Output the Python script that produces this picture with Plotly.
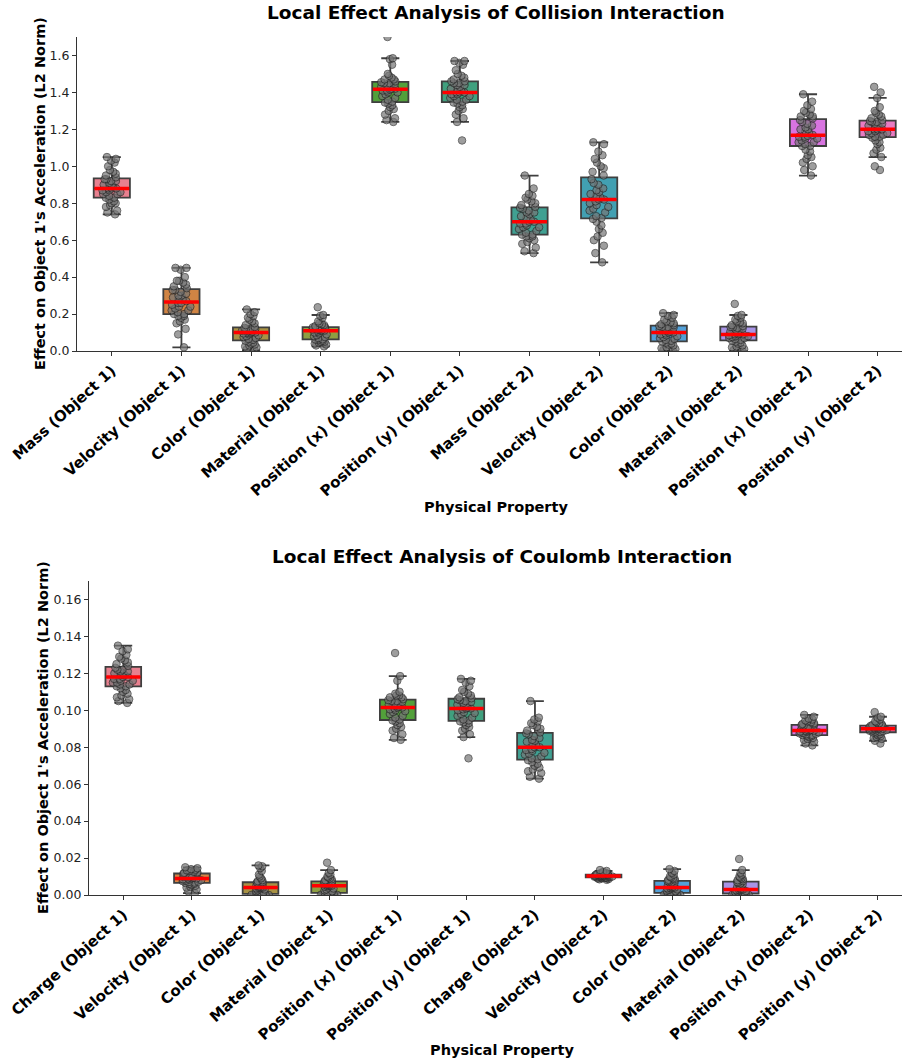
import numpy as np
import plotly.graph_objects as go

# ---------------- categories ----------------
collision_categories = [
    "Mass (Object 1)", "Velocity (Object 1)", "Color (Object 1)", "Material (Object 1)",
    "Position (x) (Object 1)", "Position (y) (Object 1)", "Mass (Object 2)", "Velocity (Object 2)",
    "Color (Object 2)", "Material (Object 2)", "Position (x) (Object 2)", "Position (y) (Object 2)",
]
coulomb_categories = [
    "Charge (Object 1)", "Velocity (Object 1)", "Color (Object 1)", "Material (Object 1)",
    "Position (x) (Object 1)", "Position (y) (Object 1)", "Charge (Object 2)", "Velocity (Object 2)",
    "Color (Object 2)", "Material (Object 2)", "Position (x) (Object 2)", "Position (y) (Object 2)",
]
box_colors = ["#e8808f", "#d08444", "#a89244", "#8e9e42", "#52a03a", "#40a07e",
              "#40a092", "#42a0b2", "#52a0d8", "#a894e6", "#d874e0", "#e87cc2"]

# ---------------- collision interaction samples ----------------
col_mass_1 = [0.74, 0.75, 0.76, 0.78, 0.79, 0.80, 0.80, 0.81, 0.82, 0.83,
              0.83, 0.84, 0.85, 0.85, 0.86, 0.86, 0.87, 0.87, 0.88, 0.88,
              0.88, 0.89, 0.89, 0.90, 0.90, 0.91, 0.92, 0.92, 0.93, 0.93,
              0.94, 0.95, 0.96, 0.97, 0.98, 1.00, 1.02, 1.03, 1.04, 1.05]
col_vel_1 = [0.02, 0.09, 0.12, 0.15, 0.16, 0.17, 0.18, 0.19, 0.19, 0.20,
             0.20, 0.21, 0.22, 0.22, 0.23, 0.24, 0.24, 0.25, 0.26, 0.26,
             0.27, 0.28, 0.28, 0.29, 0.30, 0.30, 0.31, 0.32, 0.33, 0.33,
             0.34, 0.35, 0.36, 0.37, 0.38, 0.38, 0.40, 0.44, 0.45, 0.45]
col_color_1 = [0.003, 0.01, 0.02, 0.025, 0.03, 0.035, 0.04, 0.045, 0.05, 0.055,
               0.06, 0.065, 0.07, 0.075, 0.08, 0.085, 0.09, 0.095, 0.098, 0.10,
               0.10, 0.105, 0.107, 0.11, 0.113, 0.115, 0.118, 0.12, 0.122, 0.125,
               0.13, 0.14, 0.15, 0.16, 0.17, 0.18, 0.19, 0.20, 0.21, 0.225]
col_mat_1 = [0.025, 0.03, 0.035, 0.04, 0.045, 0.05, 0.05, 0.055, 0.06, 0.062,
             0.063, 0.07, 0.075, 0.08, 0.085, 0.09, 0.095, 0.10, 0.105, 0.11,
             0.11, 0.112, 0.115, 0.117, 0.12, 0.122, 0.124, 0.125, 0.127, 0.128,
             0.13, 0.135, 0.14, 0.145, 0.15, 0.16, 0.18, 0.19, 0.195, 0.237]
col_posx_1 = [1.24, 1.25, 1.26, 1.28, 1.30, 1.31, 1.32, 1.33, 1.34, 1.345,
              1.35, 1.36, 1.37, 1.38, 1.39, 1.40, 1.40, 1.41, 1.41, 1.415,
              1.42, 1.42, 1.43, 1.43, 1.44, 1.44, 1.445, 1.45, 1.45, 1.455,
              1.46, 1.47, 1.47, 1.48, 1.49, 1.50, 1.55, 1.58, 1.585, 1.70]
col_posy_1 = [1.14, 1.24, 1.26, 1.28, 1.30, 1.31, 1.32, 1.33, 1.34, 1.345,
              1.35, 1.36, 1.36, 1.37, 1.38, 1.38, 1.39, 1.39, 1.40, 1.40,
              1.40, 1.41, 1.42, 1.42, 1.43, 1.44, 1.44, 1.45, 1.45, 1.46,
              1.46, 1.47, 1.48, 1.49, 1.50, 1.52, 1.55, 1.56, 1.57, 1.57]
col_mass_2 = [0.53, 0.54, 0.56, 0.58, 0.59, 0.60, 0.61, 0.62, 0.62, 0.63,
              0.63, 0.64, 0.65, 0.66, 0.67, 0.67, 0.68, 0.69, 0.69, 0.70,
              0.70, 0.71, 0.72, 0.73, 0.74, 0.75, 0.75, 0.76, 0.77, 0.775,
              0.78, 0.79, 0.80, 0.81, 0.82, 0.83, 0.84, 0.85, 0.88, 0.95]
col_vel_2 = [0.48, 0.53, 0.57, 0.60, 0.62, 0.64, 0.66, 0.68, 0.70, 0.715,
             0.72, 0.73, 0.75, 0.76, 0.77, 0.78, 0.79, 0.80, 0.81, 0.82,
             0.82, 0.83, 0.84, 0.85, 0.86, 0.87, 0.88, 0.90, 0.91, 0.93,
             0.95, 0.97, 0.99, 1.00, 1.02, 1.04, 1.06, 1.08, 1.12, 1.13]
col_color_2 = [0.0, 0.005, 0.01, 0.015, 0.02, 0.03, 0.035, 0.04, 0.045, 0.05,
               0.055, 0.06, 0.065, 0.07, 0.075, 0.08, 0.085, 0.09, 0.095, 0.10,
               0.10, 0.105, 0.11, 0.115, 0.12, 0.12, 0.125, 0.13, 0.13, 0.135,
               0.14, 0.145, 0.15, 0.155, 0.16, 0.17, 0.18, 0.19, 0.195, 0.205]
col_mat_2 = [0.0, 0.005, 0.01, 0.02, 0.025, 0.03, 0.04, 0.045, 0.05, 0.055,
             0.06, 0.065, 0.07, 0.07, 0.075, 0.08, 0.08, 0.085, 0.09, 0.09,
             0.09, 0.095, 0.10, 0.105, 0.11, 0.115, 0.12, 0.125, 0.128, 0.13,
             0.135, 0.14, 0.15, 0.155, 0.16, 0.17, 0.18, 0.19, 0.195, 0.255]
col_posx_2 = [0.95, 0.98, 1.00, 1.02, 1.04, 1.05, 1.06, 1.08, 1.09, 1.11,
              1.11, 1.12, 1.13, 1.13, 1.14, 1.15, 1.15, 1.16, 1.16, 1.165,
              1.17, 1.18, 1.19, 1.20, 1.20, 1.21, 1.22, 1.23, 1.24, 1.25,
              1.26, 1.27, 1.27, 1.28, 1.29, 1.30, 1.31, 1.33, 1.35, 1.39]
col_posy_2 = [0.98, 1.00, 1.05, 1.07, 1.09, 1.10, 1.12, 1.13, 1.14, 1.155,
              1.16, 1.16, 1.17, 1.17, 1.18, 1.18, 1.19, 1.19, 1.20, 1.20,
              1.20, 1.21, 1.21, 1.22, 1.22, 1.23, 1.23, 1.24, 1.24, 1.245,
              1.25, 1.26, 1.27, 1.28, 1.29, 1.30, 1.32, 1.37, 1.40, 1.43]

# ---------------- coulomb interaction samples ----------------
cou_charge_1 = [0.104, 0.105, 0.106, 0.107, 0.108, 0.109, 0.110, 0.111, 0.112, 0.113,
                0.113, 0.114, 0.114, 0.115, 0.115, 0.116, 0.116, 0.117, 0.117, 0.118,
                0.118, 0.119, 0.119, 0.120, 0.120, 0.121, 0.121, 0.122, 0.122, 0.123,
                0.124, 0.125, 0.126, 0.127, 0.128, 0.129, 0.130, 0.132, 0.133, 0.135]
cou_vel_1 = [0.001, 0.002, 0.003, 0.004, 0.0045, 0.005, 0.0055, 0.006, 0.006, 0.0065,
             0.0067, 0.007, 0.0072, 0.0075, 0.0078, 0.008, 0.0083, 0.0085, 0.0088, 0.009,
             0.009, 0.0093, 0.0095, 0.0098, 0.010, 0.0103, 0.0106, 0.011, 0.0112, 0.0115,
             0.0118, 0.012, 0.0123, 0.0126, 0.013, 0.0133, 0.0137, 0.014, 0.0145, 0.015]
cou_color_1 = [0.0, 0.0, 0.0, 0.0001, 0.0001, 0.0002, 0.0003, 0.0003, 0.0004, 0.0005,
               0.0008, 0.001, 0.0015, 0.002, 0.0025, 0.003, 0.0033, 0.0035, 0.0038, 0.004,
               0.004, 0.0043, 0.0046, 0.005, 0.0053, 0.0056, 0.006, 0.0063, 0.0066, 0.0068,
               0.007, 0.0075, 0.008, 0.009, 0.010, 0.011, 0.013, 0.0145, 0.0155, 0.0160]
cou_mat_1 = [0.0, 0.0, 0.0001, 0.0002, 0.0003, 0.0004, 0.0005, 0.0006, 0.0008, 0.001,
             0.0012, 0.0015, 0.002, 0.0025, 0.003, 0.0035, 0.004, 0.0045, 0.0048, 0.005,
             0.005, 0.0053, 0.0055, 0.0058, 0.006, 0.0063, 0.0065, 0.0068, 0.007, 0.0072,
             0.0075, 0.008, 0.0085, 0.009, 0.0095, 0.010, 0.011, 0.012, 0.0135, 0.0175]
cou_posx_1 = [0.084, 0.085, 0.087, 0.089, 0.090, 0.091, 0.092, 0.093, 0.094, 0.0945,
              0.095, 0.096, 0.097, 0.098, 0.099, 0.0995, 0.100, 0.1005, 0.101, 0.1015,
              0.1015, 0.102, 0.1025, 0.103, 0.1035, 0.104, 0.1045, 0.105, 0.105, 0.1055,
              0.106, 0.107, 0.107, 0.108, 0.108, 0.109, 0.110, 0.116, 0.1185, 0.131]
cou_posy_1 = [0.074, 0.0855, 0.087, 0.089, 0.090, 0.091, 0.092, 0.093, 0.0935, 0.094,
              0.0945, 0.095, 0.096, 0.097, 0.098, 0.0985, 0.099, 0.100, 0.1005, 0.101,
              0.101, 0.1015, 0.102, 0.103, 0.1035, 0.104, 0.1045, 0.105, 0.1055, 0.106,
              0.1065, 0.107, 0.108, 0.109, 0.110, 0.111, 0.113, 0.115, 0.116, 0.117]
cou_charge_2 = [0.063, 0.064, 0.066, 0.067, 0.068, 0.069, 0.070, 0.071, 0.072, 0.073,
                0.0735, 0.074, 0.075, 0.076, 0.0765, 0.077, 0.078, 0.0785, 0.079, 0.080,
                0.080, 0.081, 0.082, 0.083, 0.0835, 0.084, 0.085, 0.086, 0.087, 0.0875,
                0.088, 0.089, 0.090, 0.091, 0.092, 0.093, 0.094, 0.095, 0.096, 0.105]
cou_vel_2 = [0.0082, 0.0085, 0.0087, 0.0089, 0.009, 0.0091, 0.0092, 0.0093, 0.0094, 0.0095,
             0.0096, 0.0097, 0.0098, 0.0099, 0.010, 0.010, 0.0101, 0.0102, 0.0102, 0.0103,
             0.0103, 0.0104, 0.0105, 0.0105, 0.0106, 0.0107, 0.0108, 0.0108, 0.0109, 0.011,
             0.0111, 0.0112, 0.0113, 0.0114, 0.0116, 0.0118, 0.012, 0.0125, 0.013, 0.0135]
cou_color_2 = [0.0, 0.0, 0.0001, 0.0002, 0.0003, 0.0004, 0.0005, 0.0006, 0.0008, 0.001,
               0.0012, 0.0015, 0.002, 0.0023, 0.0027, 0.003, 0.0033, 0.0036, 0.0038, 0.004,
               0.004, 0.0044, 0.0048, 0.0052, 0.0056, 0.006, 0.0064, 0.0068, 0.0072, 0.0075,
               0.0078, 0.0082, 0.0087, 0.009, 0.0095, 0.010, 0.011, 0.012, 0.013, 0.014]
cou_mat_2 = [0.0, 0.0, 0.0001, 0.0002, 0.0002, 0.0003, 0.0004, 0.0005, 0.0006, 0.0007,
             0.0009, 0.001, 0.0013, 0.0016, 0.0019, 0.0021, 0.0024, 0.0026, 0.0028, 0.003,
             0.003, 0.0034, 0.0038, 0.0042, 0.0047, 0.0052, 0.0057, 0.0062, 0.0066, 0.007,
             0.0075, 0.008, 0.0085, 0.009, 0.0095, 0.010, 0.011, 0.012, 0.0135, 0.0195]
cou_posx_2 = [0.081, 0.082, 0.083, 0.084, 0.0845, 0.085, 0.0855, 0.086, 0.0862, 0.0865,
              0.0867, 0.087, 0.0873, 0.0875, 0.0878, 0.088, 0.0883, 0.0885, 0.0888, 0.089,
              0.089, 0.0893, 0.0896, 0.090, 0.0903, 0.0906, 0.091, 0.0913, 0.0917, 0.092,
              0.0923, 0.0926, 0.093, 0.0935, 0.094, 0.0945, 0.095, 0.0955, 0.0965, 0.0975]
cou_posy_2 = [0.082, 0.0835, 0.0845, 0.085, 0.0855, 0.086, 0.0865, 0.087, 0.0875, 0.088,
              0.0882, 0.0885, 0.0887, 0.0889, 0.0891, 0.0893, 0.0895, 0.0897, 0.0899, 0.090,
              0.090, 0.0902, 0.0904, 0.0906, 0.0908, 0.091, 0.0911, 0.0912, 0.0914, 0.0915,
              0.0918, 0.092, 0.0925, 0.093, 0.0935, 0.094, 0.095, 0.096, 0.0965, 0.099]

collision_values = [col_mass_1, col_vel_1, col_color_1, col_mat_1, col_posx_1, col_posy_1,
                    col_mass_2, col_vel_2, col_color_2, col_mat_2, col_posx_2, col_posy_2]
coulomb_values = [cou_charge_1, cou_vel_1, cou_color_1, cou_mat_1, cou_posx_1, cou_posy_1,
                  cou_charge_2, cou_vel_2, cou_color_2, cou_mat_2, cou_posx_2, cou_posy_2]

collision_yticks = [0.0, 0.2, 0.4, 0.6, 0.8, 1.0, 1.2, 1.4, 1.6]
coulomb_yticks = [0.00, 0.02, 0.04, 0.06, 0.08, 0.10, 0.12, 0.14, 0.16]

FONT = "DejaVu Sans"
W, H = 902, 1063
BOX_W = 0.52

fig = go.Figure()


def add_panel(values, xa, ya):
    for i, (vals, col) in enumerate(zip(values, box_colors)):
        fig.add_trace(go.Box(
            x=[i] * len(vals), y=vals, xaxis=xa, yaxis=ya,
            width=BOX_W, fillcolor=col,
            line=dict(color="#3f3f3f", width=1.8), whiskerwidth=0.5,
            boxpoints="all", jitter=0.6, pointpos=0, quartilemethod="linear",
            marker=dict(size=7.5, color="rgb(118,118,118)", opacity=0.7,
                        line=dict(color="#2a2a2a", width=1)),
            showlegend=False, hoverinfo="y",
        ))
        med = float(np.median(vals))
        fig.add_trace(go.Scatter(
            x=[i - BOX_W / 2 + 0.01, i + BOX_W / 2 - 0.01], y=[med, med],
            xaxis=xa, yaxis=ya, mode="lines",
            line=dict(color="#ff0000", width=3.5),
            showlegend=False, hoverinfo="skip",
        ))


add_panel(collision_values, "x", "y")
add_panel(coulomb_values, "x2", "y2")

axis_common = dict(showline=True, linecolor="#333333", linewidth=1.2, ticks="outside",
                   ticklen=4, tickcolor="#333333", showgrid=False, zeroline=False,
                   automargin=False)

top_dom = [1 - 351 / H, 1 - 37 / H]
bot_dom = [1 - 895 / H, 1 - 581 / H]
xtick_font = dict(family=FONT, size=15, color="#000000", weight="bold")
ytick_font = dict(family=FONT, size=12.5, color="#222222")

fig.update_layout(
    width=W, height=H, margin=dict(l=0, r=0, t=0, b=0),
    paper_bgcolor="white", plot_bgcolor="white",
    font=dict(family=FONT, color="#222222"),
    boxmode="overlay",
    xaxis=dict(domain=[77 / W, 1], range=[-0.5, 11.35], anchor="y",
               tickvals=list(range(12)), ticktext=collision_categories, tickangle=-42,
               tickfont=xtick_font, **axis_common),
    yaxis=dict(domain=top_dom, range=[0, 1.7], anchor="x", tickvals=collision_yticks,
               tickformat=".1f", tickfont=ytick_font, **axis_common),
    xaxis2=dict(domain=[89 / W, 1], range=[-0.5, 11.35], anchor="y2",
                tickvals=list(range(12)), ticktext=coulomb_categories, tickangle=-42,
                tickfont=xtick_font, **axis_common),
    yaxis2=dict(domain=bot_dom, range=[0, 0.17], anchor="x2", tickvals=coulomb_yticks,
                tickformat=".2f", tickfont=ytick_font, **axis_common),
)

title_font = dict(family=FONT, size=18.5, color="#000000", weight="bold")
label_font = dict(family=FONT, size=14.5, color="#000000", weight="bold")
ann = [
    dict(text="Local Effect Analysis of Collision Interaction", x=496 / W, y=1 - 13 / H,
         font=title_font),
    dict(text="Local Effect Analysis of Coulomb Interaction", x=502 / W, y=1 - 556 / H,
         font=title_font),
    dict(text="Physical Property", x=496 / W, y=1 - 507 / H, font=label_font),
    dict(text="Physical Property", x=502 / W, y=1 - 1050 / H, font=label_font),
    dict(text="Effect on Object 1's Acceleration (L2 Norm)", x=40 / W,
         y=(top_dom[0] + top_dom[1]) / 2, textangle=-90, font=label_font),
    dict(text="Effect on Object 1's Acceleration (L2 Norm)", x=43 / W,
         y=(bot_dom[0] + bot_dom[1]) / 2, textangle=-90, font=label_font),
]
for a in ann:
    fig.add_annotation(xref="paper", yref="paper", showarrow=False,
                       xanchor="center", yanchor="middle", **a)

# remove the browser's default 8px page margin so the figure sits at the page origin
fig.write_html("out.html", config={"displayModeBar": False},
               post_script="document.body.style.margin='0px';")
